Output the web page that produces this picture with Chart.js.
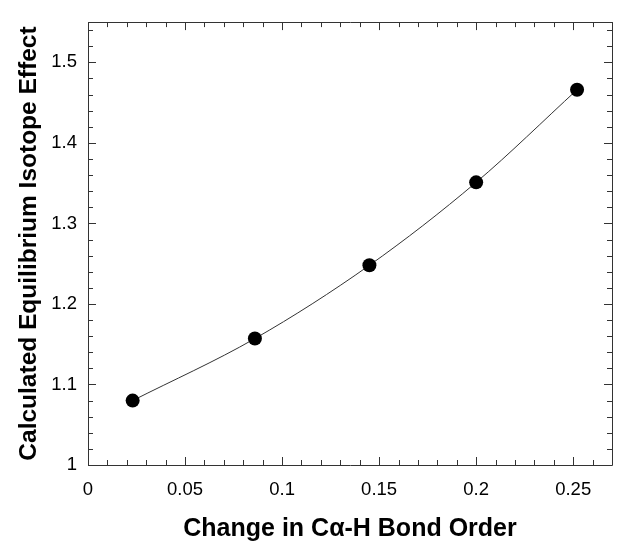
<!DOCTYPE html>
<html><head><meta charset="utf-8">
<script src="https://cdn.jsdelivr.net/npm/chart.js@4/dist/chart.umd.min.js"></script>
<style>html,body{margin:0;padding:0;background:#fff}</style>
</head><body>
<canvas id="c" width="624" height="557" style="display:block;width:624px;height:557px"></canvas>
<script>
// ---- data ----
const bondOrderChange = [0.023, 0.086, 0.145, 0.200, 0.252];
const isotopeEffect   = [1.080, 1.157, 1.248, 1.351, 1.466];
const xTickValues = [0, 0.05, 0.1, 0.15, 0.2, 0.25];
const yTickValues = [1, 1.1, 1.2, 1.3, 1.4, 1.5];
const xRange = [0, 0.27];
const yRange = [1, 1.55];
const xMinorStep = 0.01;
const yMinorStep = 0.02;
const xTitle = 'Change in C\u03B1-H Bond Order';
const yTitle = 'Calculated Equilibrium Isotope Effect';

const points = bondOrderChange.map((v, i) => ({ x: v, y: isotopeEffect[i] }));
const fmt = v => String(Number(v.toFixed(3)));

const frameTicks = {
  id: 'frameTicks',
  afterDraw(chart) {
    const { ctx, chartArea: a, scales: { x, y } } = chart;
    ctx.save();
    ctx.strokeStyle = '#333';
    ctx.lineWidth = 1;
    ctx.beginPath();
    ctx.rect(Math.round(a.left) + 0.5, Math.round(a.top) + 0.5,
             Math.round(a.right - a.left), Math.round(a.bottom - a.top));
    ctx.stroke();
    ctx.beginPath();
    const nx = Math.floor((xRange[1] - xRange[0]) / xMinorStep + 1e-6);
    for (let i = 0; i <= nx; i++) {
      const v = xRange[0] + i * xMinorStep;
      const len = i % 5 === 0 ? 8 : 5;
      const px = Math.round(x.getPixelForValue(v)) + 0.5;
      ctx.moveTo(px, a.bottom); ctx.lineTo(px, a.bottom - len);
      ctx.moveTo(px, a.top); ctx.lineTo(px, a.top + len);
    }
    const ny = Math.floor((yRange[1] - yRange[0]) / yMinorStep + 1e-6);
    for (let i = 0; i <= ny; i++) {
      const v = yRange[0] + i * yMinorStep;
      const major = i % 5 === 0;
      const len = major ? 8 : 5;
      const py = Math.round(y.getPixelForValue(v)) + 0.5;
      ctx.moveTo(a.left, py); ctx.lineTo(a.left + len, py);
      ctx.moveTo(a.right, py); ctx.lineTo(a.right - len, py);
    }
    ctx.stroke();
    ctx.restore();
  }
};

new Chart(document.getElementById('c'), {
  type: 'scatter',
  data: {
    datasets: [{
      data: points,
      showLine: true,
      borderColor: '#333',
      borderWidth: 1,
      cubicInterpolationMode: 'monotone',
      pointRadius: 7,
      pointBackgroundColor: '#000',
      pointBorderColor: '#000',
      pointBorderWidth: 0
    }]
  },
  options: {
    responsive: false,
    animation: false,
    devicePixelRatio: 1,
    layout: { padding: { top: 12, right: 12, left: 0, bottom: 0 } },
    plugins: { legend: { display: false }, tooltip: { enabled: false } },
    scales: {
      x: {
        type: 'linear', min: xRange[0], max: xRange[1],
        grid: { display: false, drawTicks: false },
        border: { display: false },
        afterBuildTicks: s => { s.ticks = xTickValues.map(v => ({ value: v })); },
        afterFit: s => { s.height = 92; },
        ticks: { color: '#000', padding: 14, maxRotation: 0, autoSkip: false,
                 font: { family: 'Liberation Sans', size: 18.5 }, callback: v => fmt(v) },
        title: { display: true, text: xTitle, color: '#000',
                 font: { family: 'Liberation Sans', size: 25, weight: 'bold' },
                 padding: { top: 0, bottom: 13 } }
      },
      y: {
        type: 'linear', min: yRange[0], max: yRange[1],
        grid: { display: false, drawTicks: false },
        border: { display: false },
        afterBuildTicks: s => { s.ticks = yTickValues.map(v => ({ value: v })); },
        afterFit: s => { s.width = 88; },
        ticks: { color: '#000', padding: 11, autoSkip: false,
                 font: { family: 'Liberation Sans', size: 18.5 }, callback: v => fmt(v) },
        title: { display: true, text: yTitle, color: '#000',
                 font: { family: 'Liberation Sans', size: 24.5, weight: 'bold' },
                 padding: { top: 15, bottom: 0 } }
      }
    }
  },
  plugins: [frameTicks]
});
</script>
</body></html>
